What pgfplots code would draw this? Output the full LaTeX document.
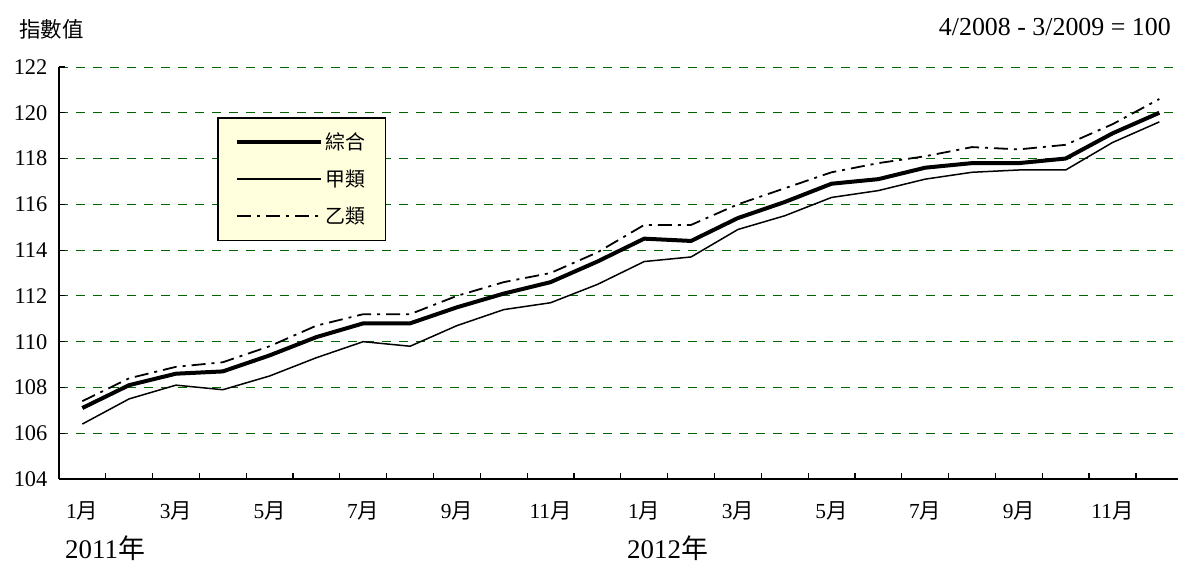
\documentclass[border=0pt]{standalone}
\usepackage{fontspec}
\setmainfont{Liberation Serif}
\newfontfamily\cjk{Noto Sans CJK TC}
\usepackage{pgfplots}
\pgfplotsset{compat=1.18}
\definecolor{gridgreen}{RGB}{0,100,0}
\definecolor{legfill}{RGB}{255,255,221}
\newcommand\yue{{\cjk 月}}
\begin{document}
\begin{tikzpicture}[x=1bp,y=1bp]
\path[use as bounding box] (0,0) rectangle (1178,584);
\begin{axis}[
  at={(58.9bp,105bp)}, anchor=south west,
  scale only axis, width=1119.1bp, height=412bp,
  xmin=0.5, xmax=24.4, ymin=104, ymax=122,
  separate axis lines,
  axis x line*=bottom, axis y line*=left,
  axis line style={-, black, line width=1.6bp},
  ytick={104,106,...,122},
  ymajorgrids,
  major grid style={gridgreen, dash pattern=on 9bp off 8bp, line width=0.9bp},
  xtick={1,3,...,23},
  xticklabels={1\yue,3\yue,5\yue,7\yue,9\yue,11\yue,1\yue,3\yue,5\yue,7\yue,9\yue,11\yue},
  minor xtick={1.5,2.5,...,23.5},
  major x tick style={draw=none},
  minor x tick style={black, line width=1.2bp},
  major y tick style={black, line width=1.2bp},
  tick align=inside,
  major tick length=6bp, minor tick length=6bp,
  xticklabel style={font=\fontsize{21.5}{25}\selectfont, yshift=-19bp},
  yticklabel style={font=\fontsize{22.5}{26}\selectfont, xshift=-8bp},
  /pgf/number format/assume math mode=true,
  legend style={at={(0.1413,0.8786)}, anchor=north west, draw=black, line width=1.5bp,
    fill=legfill, font=\cjk\fontsize{20}{23}\selectfont, row sep=15bp,
    inner xsep=17bp, inner ysep=13bp, cells={anchor=west},
    nodes={inner xsep=3bp}},
  legend image code/.code={\draw[#1] (0bp,0bp) -- (84bp,0bp);},
]
\addplot[black, line width=4bp, line join=round] coordinates {
(1,107.1) (2,108.1) (3,108.6) (4,108.7) (5,109.4) (6,110.2) (7,110.8) (8,110.8)
(9,111.5) (10,112.1) (11,112.6) (12,113.5) (13,114.5) (14,114.4) (15,115.4) (16,116.1)
(17,116.9) (18,117.1) (19,117.6) (20,117.8) (21,117.8) (22,118.0) (23,119.1) (24,120.0)};
\addlegendentry{綜合}
\addplot[black, line width=1.5bp, line join=round] coordinates {
(1,106.4) (2,107.5) (3,108.1) (4,107.9) (5,108.5) (6,109.3) (7,110.0) (8,109.8)
(9,110.7) (10,111.4) (11,111.7) (12,112.5) (13,113.5) (14,113.7) (15,114.9) (16,115.5)
(17,116.3) (18,116.6) (19,117.1) (20,117.4) (21,117.5) (22,117.5) (23,118.7) (24,119.6)};
\addlegendentry{甲類}
\addplot[black, line width=1.8bp, dash pattern=on 14bp off 6bp on 3bp off 6bp] coordinates {
(1,107.4) (2,108.4) (3,108.9) (4,109.1) (5,109.8) (6,110.7) (7,111.2) (8,111.2)
(9,112.0) (10,112.6) (11,113.0) (12,113.9) (13,115.1) (14,115.1) (15,116.0) (16,116.7)
(17,117.4) (18,117.8) (19,118.1) (20,118.5) (21,118.4) (22,118.6) (23,119.5) (24,120.6)};
\addlegendentry{乙類}
\end{axis}
\node[anchor=west, inner sep=0, font=\cjk\fontsize{21.5}{25}\selectfont] at (19,555) {指數值};
\node[anchor=east, inner sep=0, font=\fontsize{26}{30}\selectfont] at (1171,557) {4/2008 - 3/2009 = 100};
\node[anchor=west, inner sep=0, font=\fontsize{27}{32}\selectfont] at (65,36) {2011{\cjk 年}};
\node[anchor=west, inner sep=0, font=\fontsize{27}{32}\selectfont] at (627,36) {2012{\cjk 年}};
\end{tikzpicture}
\end{document}
